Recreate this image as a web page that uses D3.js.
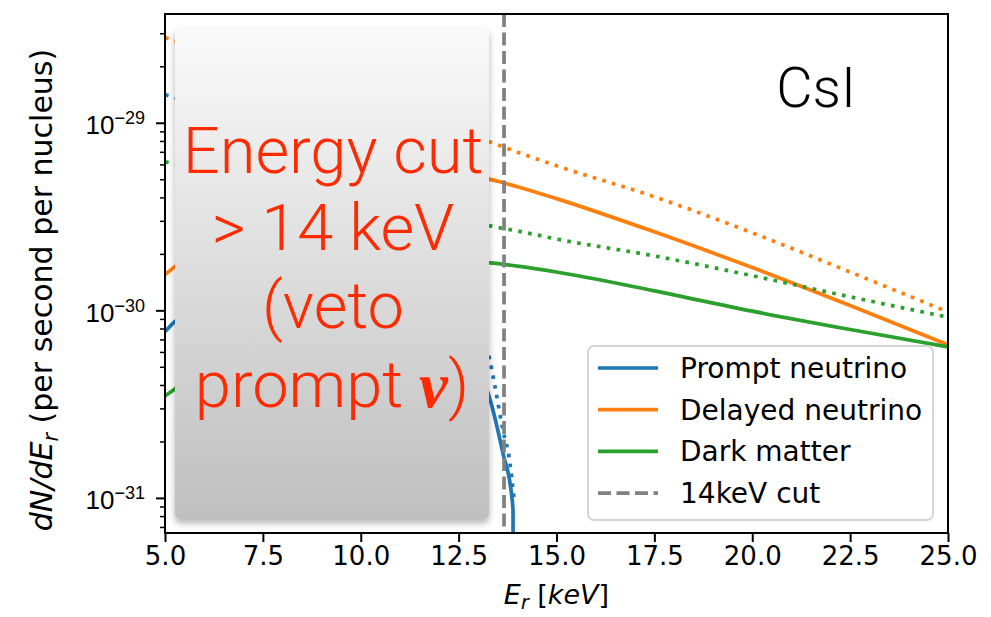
<!DOCTYPE html>
<html>
<head>
<meta charset="utf-8">
<script src="https://cdn.jsdelivr.net/npm/d3@7"></script>
<style>
  body { margin: 0; background: #fff; }
  svg { display: block; font-family: "DejaVu Sans", sans-serif; }
</style>
</head>
<body>
<svg id="chart" width="991" height="617"></svg>
<script>
// energy grid (keV) shared by delayed and dark matter curves
var energyGrid = [5, 5.25, 6, 7, 8, 9, 10, 11, 12, 13, 13.3, 14, 15, 17.5, 20, 22.5, 25];
var delayedAll = [2.84e-29, 2.74e-29, 2.45e-29, 2.09e-29, 1.82e-29, 1.55e-29, 1.35e-29, 1.15e-29, 9.8e-30, 8.3e-30, 7.9e-30, 6.97e-30, 5.9e-30, 4.03e-30, 2.59e-30, 1.60e-30, 9.8e-31];
var delayedCut = [1.55e-30, 1.71e-30, 2.40e-30, 3.39e-30, 4.17e-30, 4.79e-30, 5.13e-30, 5.25e-30, 5.25e-30, 5.13e-30, 4.99e-30, 4.56e-30, 3.94e-30, 2.62e-30, 1.69e-30, 1.06e-30, 6.55e-31];
var darkAll = [6.19e-30, 6.05e-30, 5.62e-30, 5.13e-30, 4.68e-30, 4.27e-30, 3.89e-30, 3.55e-30, 3.24e-30, 2.92e-30, 2.82e-30, 2.65e-30, 2.40e-30, 1.95e-30, 1.53e-30, 1.18e-30, 9.2e-31];
var darkCut = [3.50e-31, 3.81e-31, 5.89e-31, 8.91e-31, 1.17e-30, 1.38e-30, 1.55e-30, 1.66e-30, 1.74e-30, 1.80e-30, 1.79e-30, 1.72e-30, 1.60e-30, 1.27e-30, 9.9e-31, 7.9e-31, 6.38e-31];

// prompt neutrino stops near its kinematic endpoint
var promptAllE = [5, 5.25, 6, 7, 8, 9, 10, 11, 12, 13, 13.25, 13.43, 13.63, 13.81, 13.91];
var promptAll = [1.41e-29, 1.36e-29, 1.17e-29, 9.5e-30, 7.6e-30, 5.75e-30, 4.17e-30, 2.82e-30, 1.70e-30, 7.9e-31, 6.0e-31, 3.91e-31, 2.31e-31, 1.54e-31, 1.01e-31];
var promptCutE = [5, 5.25, 6, 7, 8, 9, 10, 11, 12, 13, 13.25, 13.63, 13.86, 13.89, 13.9];
var promptCut = [7.7e-31, 8.7e-31, 1.12e-30, 1.41e-30, 1.58e-30, 1.58e-30, 1.41e-30, 1.12e-30, 7.9e-31, 4.68e-31, 3.63e-31, 1.74e-31, 1.01e-31, 8.6e-32, 1e-33];

var cutEnergy = 13.66;
var xTicks = [5, 7.5, 10, 12.5, 15, 17.5, 20, 22.5, 25];
var yMajor = [1e-31, 1e-30, 1e-29];
var legendLabels = ["Prompt neutrino", "Delayed neutrino", "Dark matter", "14keV cut"];
var boxLines = ["Energy cut", "> 14 keV", "(veto"];

var colors = { prompt: "#1f77b4", delayed: "#ff7f0e", dark: "#2ca02c", cut: "#808080" };

var plotL = 165, plotR = 948, plotT = 14, plotB = 533;
var lw = 3.7;

var svg = d3.select('#chart');
var x = d3.scaleLinear().domain([5, 25]).range([plotL, plotR]);
var y = d3.scaleLog().domain([6.5e-32, 3.8e-29]).range([plotB, plotT]);

var defs = svg.append('defs');
defs.append('clipPath').attr('id', 'plotclip')
    .append('rect').attr('x', plotL).attr('y', plotT).attr('width', plotR - plotL).attr('height', plotB - plotT);

var grad = defs.append('linearGradient').attr('id', 'boxgrad')
    .attr('x1', 0).attr('y1', 0).attr('x2', 0).attr('y2', 1);
grad.append('stop').attr('offset', '0%').attr('stop-color', '#fafafa');
grad.append('stop').attr('offset', '100%').attr('stop-color', '#bfbfbf');

var shadow = defs.append('filter').attr('id', 'boxshadow')
    .attr('x', '-10%').attr('y', '-10%').attr('width', '120%').attr('height', '120%');
shadow.append('feDropShadow').attr('dx', 0).attr('dy', 4).attr('stdDeviation', 3.5)
    .attr('flood-color', '#000').attr('flood-opacity', 0.3);

var plot = svg.append('g').attr('clip-path', 'url(#plotclip)');

function drawSeries(es, vals, color, dotted) {
    var pts = es.map(function (e, i) { return [e, vals[i]]; });
    var line = d3.line()
        .x(function (d) { return x(d[0]); })
        .y(function (d) { return y(d[1]); })
        .curve(d3.curveMonotoneX);
    plot.append('path')
        .datum(pts)
        .attr('d', line)
        .attr('fill', 'none')
        .attr('stroke', color)
        .attr('stroke-width', lw)
        .attr('stroke-dasharray', dotted ? lw + ',6.3' : null);
}

drawSeries(promptCutE, promptCut, colors.prompt, false);
drawSeries(energyGrid, delayedCut, colors.delayed, false);
drawSeries(energyGrid, darkCut, colors.dark, false);
drawSeries(promptAllE, promptAll, colors.prompt, true);
drawSeries(energyGrid, delayedAll, colors.delayed, true);
drawSeries(energyGrid, darkAll, colors.dark, true);

plot.append('line')
    .attr('x1', x(cutEnergy)).attr('x2', x(cutEnergy))
    .attr('y1', plotT).attr('y2', plotB)
    .attr('stroke', colors.cut).attr('stroke-width', lw)
    .attr('stroke-dasharray', '13,5.5');

// the grey callout box that hides the low-energy region
svg.append('rect')
    .attr('x', 175).attr('y', 28).attr('width', 314).attr('height', 491)
    .attr('rx', 5)
    .attr('fill', 'url(#boxgrad)')
    .attr('filter', 'url(#boxshadow)');

var boxText = svg.append('g')
    .attr('fill', '#ff2a00')
    .attr('font-family', 'Roboto, "Liberation Sans", sans-serif')
    .attr('font-weight', 300)
    .attr('font-size', 65)
    .attr('text-anchor', 'middle');
var baselines = [173, 250, 328, 407];
boxLines.forEach(function (t, i) {
    boxText.append('text').attr('x', 333).attr('y', baselines[i]).text(t);
});
var last = boxText.append('text').attr('x', 332).attr('y', baselines[3]);
last.append('tspan').text('prompt ');
last.append('tspan')
    .attr('font-family', '"Liberation Serif", "DejaVu Serif", serif')
    .attr('font-style', 'italic').attr('font-weight', 700)
    .text('ν');
last.append('tspan').text(')');

svg.append('text')
    .attr('x', 816).attr('y', 107)
    .attr('text-anchor', 'middle')
    .attr('font-family', 'Roboto, "Liberation Sans", sans-serif')
    .attr('font-weight', 300)
    .attr('font-size', 56)
    .attr('fill', '#000')
    .text('CsI');

// legend
var legend = svg.append('g');
legend.append('rect')
    .attr('x', 588).attr('y', 346).attr('width', 345).attr('height', 174)
    .attr('rx', 6)
    .attr('fill', 'rgba(255,255,255,0.8)')
    .attr('stroke', '#d4d4d4').attr('stroke-width', 2);
var legendColors = [colors.prompt, colors.delayed, colors.dark, colors.cut];
legendLabels.forEach(function (lab, i) {
    var cy = 368 + i * 41.7;
    legend.append('line')
        .attr('x1', 598).attr('x2', 658).attr('y1', cy).attr('y2', cy)
        .attr('stroke', legendColors[i]).attr('stroke-width', lw)
        .attr('stroke-dasharray', i == 3 ? '13,5.5' : null);
    legend.append('text')
        .attr('x', 680).attr('y', cy + 10)
        .attr('font-size', 28)
        .attr('fill', '#000')
        .text(lab);
});

// axes
var xAxis = d3.axisBottom(x).tickValues(xTicks).tickFormat(d3.format('.1f')).tickSize(9).tickPadding(5);
var gx = svg.append('g').attr('transform', 'translate(0,' + plotB + ')').call(xAxis);
gx.select('.domain').remove();
gx.selectAll('line').attr('stroke', '#000').attr('stroke-width', 2);
gx.selectAll('text').attr('font-size', 26).attr('font-family', '"DejaVu Sans", sans-serif').attr('fill', '#000');

var yMinor = [];
[-32, -31, -30, -29].forEach(function (p) {
    for (var k = 2; k <= 9; k++) {
        var v = k * Math.pow(10, p);
        if (v > y.domain()[0] && v < y.domain()[1]) yMinor.push(v);
    }
});
var gyMinor = svg.append('g').attr('transform', 'translate(' + plotL + ',0)')
    .call(d3.axisLeft(y).tickValues(yMinor).tickFormat('').tickSize(5));
gyMinor.select('.domain').remove();
gyMinor.selectAll('line').attr('stroke', '#000').attr('stroke-width', 1.5);

var gy = svg.append('g').attr('transform', 'translate(' + plotL + ',0)')
    .call(d3.axisLeft(y).tickValues(yMajor).tickFormat('').tickSize(9));
gy.select('.domain').remove();
gy.selectAll('line').attr('stroke', '#000').attr('stroke-width', 2);
gy.selectAll('.tick').each(function (d) {
    var p = Math.round(Math.log10(d));
    var t = d3.select(this).append('text')
        .attr('x', -20).attr('y', 11)
        .attr('text-anchor', 'end')
        .attr('fill', '#000')
        .attr('font-size', 26);
    t.append('tspan').text('10');
    t.append('tspan').attr('font-size', 18).attr('dy', -10).text('\u2212' + Math.abs(p));
});

svg.append('rect')
    .attr('x', plotL).attr('y', plotT).attr('width', plotR - plotL).attr('height', plotB - plotT)
    .attr('fill', 'none').attr('stroke', '#000').attr('stroke-width', 2);

// axis labels
var xl = svg.append('text')
    .attr('x', (plotL + plotR) / 2).attr('y', 604)
    .attr('text-anchor', 'middle').attr('font-size', 27).attr('fill', '#000');
xl.append('tspan').attr('font-style', 'italic').text('E');
xl.append('tspan').attr('font-style', 'italic').attr('font-size', 19).attr('dy', 5).text('r');
xl.append('tspan').attr('dy', -5).text(' [');
xl.append('tspan').attr('font-style', 'italic').text('keV');
xl.append('tspan').text(']');

var yl = svg.append('text')
    .attr('transform', 'translate(52,290) rotate(-90)')
    .attr('text-anchor', 'middle').attr('font-size', 30).attr('fill', '#000');
yl.append('tspan').attr('font-style', 'italic').text('dN/dE');
yl.append('tspan').attr('font-style', 'italic').attr('font-size', 21).attr('dy', 6).text('r');
yl.append('tspan').attr('dy', -6).text(' (per second per nucleus)');
</script>
</body>
</html>
